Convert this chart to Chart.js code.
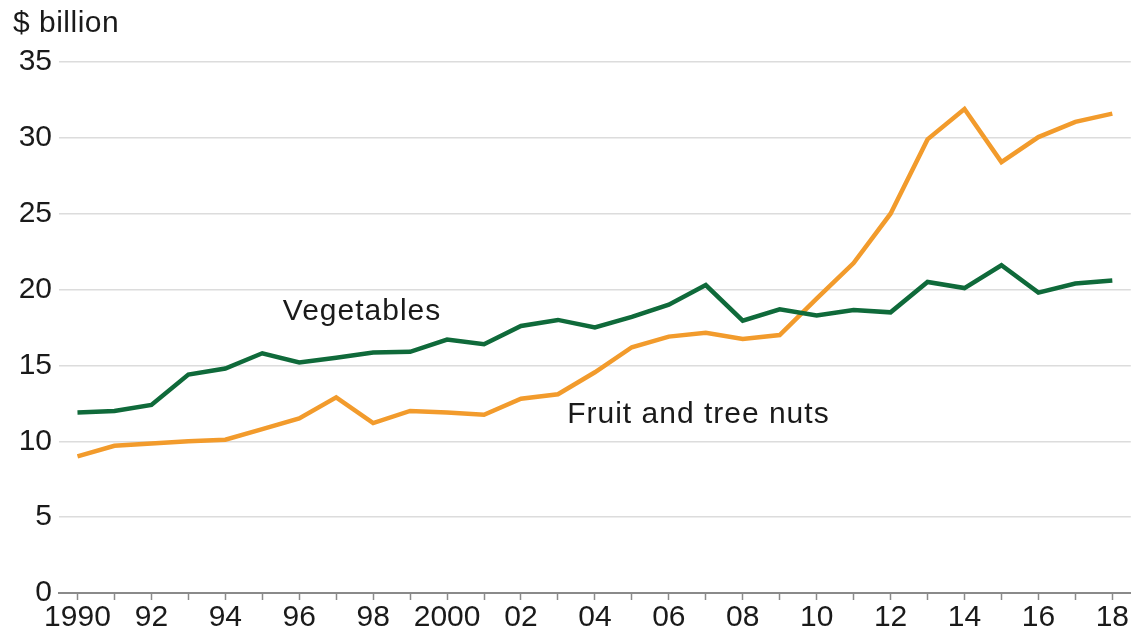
<!DOCTYPE html>
<html>
<head>
<meta charset="utf-8">
<script src="https://cdn.jsdelivr.net/npm/chart.js@4"></script>
<style>
  html, body { margin: 0; padding: 0; background: #fff; }
  #wrap { width: 1132px; height: 636px; }
</style>
</head>
<body>
<div id="wrap"><canvas id="chart" width="1132" height="636"></canvas></div>
<script>
const years = ['1990', '1991', '1992', '1993', '1994', '1995', '1996', '1997', '1998', '1999',
  '2000', '2001', '2002', '2003', '2004', '2005', '2006', '2007', '2008', '2009',
  '2010', '2011', '2012', '2013', '2014', '2015', '2016', '2017', '2018'];

const vegetables = [11.9, 12.0, 12.4, 14.4, 14.8, 15.8, 15.2, 15.5, 15.85, 15.9,
  16.7, 16.4, 17.6, 18.0, 17.5, 18.2, 19.0, 20.3, 17.95, 18.7,
  18.3, 18.65, 18.5, 20.5, 20.1, 21.6, 19.8, 20.4, 20.6];

const fruitNuts = [9.0, 9.7, 9.85, 10.0, 10.1, 10.8, 11.5, 12.9, 11.2, 12.0,
  11.9, 11.75, 12.8, 13.1, 14.55, 16.2, 16.9, 17.15, 16.75, 17.0,
  19.4, 21.75, 25.0, 29.9, 31.9, 28.4, 30.05, 31.05, 31.6];

const tickLabels = ['1990', '92', '94', '96', '98', '2000', '02', '04', '06', '08',
  '10', '12', '14', '16', '18'];

const unitLabel = '$ billion';

const fontFamily = '"Liberation Sans", Arial, Helvetica, sans-serif';

// series labels placed in data coordinates
const seriesLabels = [
  { text: 'Vegetables', year: 7.7, value: 18.55, align: 'center' },
  { text: 'Fruit and tree nuts', year: 13.25, value: 11.75, align: 'left' }
];

const labelPlugin = {
  id: 'seriesLabels',
  afterDatasetsDraw(chart) {
    const ctx = chart.ctx;
    const xs = chart.scales.x;
    const ys = chart.scales.y;
    ctx.save();
    ctx.font = '30px ' + fontFamily;
    ctx.fillStyle = '#1a1a1a';
    ctx.textBaseline = 'middle';
    ctx.letterSpacing = '1px';
    seriesLabels.forEach(l => {
      ctx.textAlign = l.align;
      ctx.fillText(l.text, xs.getPixelForValue(l.year), ys.getPixelForValue(l.value));
    });
    // unit label above the y axis
    ctx.letterSpacing = '0.5px';
    ctx.textAlign = 'left';
    ctx.fillText(unitLabel, 13, chart.chartArea.top - 38);
    ctx.restore();
  }
};

new Chart(document.getElementById('chart'), {
  type: 'line',
  data: {
    labels: years,
    datasets: [
      {
        label: 'Vegetables',
        data: vegetables,
        borderColor: '#0f6a3a',
        borderWidth: 4.5,
        pointRadius: 0,
        tension: 0,
        fill: false
      },
      {
        label: 'Fruit and tree nuts',
        data: fruitNuts,
        borderColor: '#f29b2c',
        borderWidth: 4.5,
        pointRadius: 0,
        tension: 0,
        fill: false
      }
    ]
  },
  options: {
    responsive: false,
    animation: false,
    layout: { padding: { left: 13, right: 0, top: 62, bottom: 0 } },
    plugins: {
      legend: { display: false },
      tooltip: { enabled: false },
      title: { display: false }
    },
    scales: {
      x: {
        type: 'category',
        offset: true,
        grid: {
          display: true,
          drawOnChartArea: false,
          drawTicks: true,
          tickLength: 7,
          tickWidth: 1.5,
          tickColor: '#8a8a8a'
        },
        border: { display: true, color: '#8a8a8a', width: 2 },
        ticks: {
          autoSkip: false,
          maxRotation: 0,
          minRotation: 0,
          padding: 3,
          color: '#1a1a1a',
          font: { family: fontFamily, size: 30, lineHeight: 1 },
          callback: function (value, index) {
            return index % 2 === 0 ? tickLabels[index / 2] : '';
          }
        }
      },
      y: {
        min: 0,
        max: 35,
        afterFit(scale) { scale.width = 46; },
        grid: {
          color: '#dcdcdc',
          lineWidth: 1.5,
          drawTicks: false
        },
        border: { display: false },
        ticks: {
          stepSize: 5,
          padding: 7,
          color: '#1a1a1a',
          font: { family: fontFamily, size: 30, lineHeight: 1 }
        }
      }
    }
  },
  plugins: [labelPlugin]
});
</script>
</body>
</html>
